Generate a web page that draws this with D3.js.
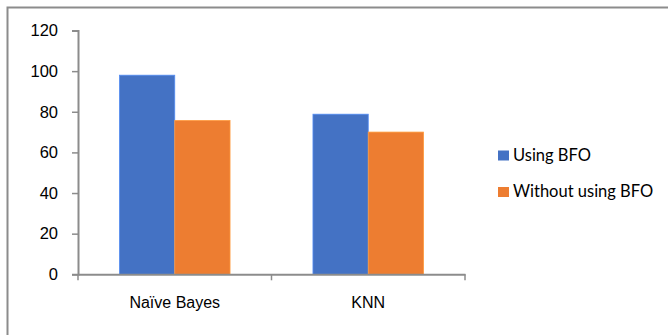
<!DOCTYPE html>
<html>
<head>
<meta charset="utf-8">
<script src="https://cdn.jsdelivr.net/npm/d3@7"></script>
<style>
  html, body { margin: 0; padding: 0; background: #fff; }
  svg { display: block; font-family: Lato, "Open Sans", sans-serif; }
</style>
</head>
<body>
<svg id="chart" width="668" height="335"></svg>
<script>
const categories = ["Naïve Bayes", "KNN"];
const seriesNames = ["Using BFO", "Without using BFO"];
const usingBFO = [98, 78.8];
const withoutBFO = [75.7, 70];
const yTicks = [0, 20, 40, 60, 80, 100, 120];
const colors = ["#4472C4", "#ED7D31"];

const svg = d3.select("#chart");

// chart frame
svg.append("rect")
  .attr("x", 7.5).attr("y", 7.5)
  .attr("width", 680).attr("height", 340)
  .attr("fill", "none").attr("stroke", "#8c8c8c").attr("stroke-width", 2);

const plot = { left: 78, right: 465, top: 30.5, bottom: 274.3 };

const x = d3.scaleBand().domain(categories).range([plot.left, plot.right]).paddingInner(0).paddingOuter(0);
const y = d3.scaleLinear().domain([0, 120]).range([plot.bottom, plot.top]);

const barW = x.bandwidth() / 3.5;
const rows = categories.map((c, i) => ({ cat: c, vals: [usingBFO[i], withoutBFO[i]] }));

// bars
rows.forEach(r => {
  const gx = x(r.cat) + x.bandwidth() / 2 - barW;
  r.vals.forEach((v, j) => {
    svg.append("rect")
      .attr("x", gx + j * barW)
      .attr("y", y(v))
      .attr("width", barW)
      .attr("height", y(0) - y(v))
      .attr("fill", colors[j])
      .attr("stroke", d3.color(colors[j]).brighter(0.6))
      .attr("stroke-width", 0.8);
  });
});

// y axis
const yAxis = svg.append("g")
  .attr("transform", `translate(${plot.left},0)`)
  .call(d3.axisLeft(y).tickValues(yTicks).tickSize(6).tickPadding(14));
yAxis.select(".domain").attr("stroke", "#8c8c8c").attr("stroke-width", 2);
yAxis.selectAll(".tick line").attr("stroke", "#8c8c8c").attr("stroke-width", 1.5);
yAxis.selectAll(".tick text").attr("font-size", 16.5).attr("fill", "#000");

// x axis
const xAxis = svg.append("g")
  .attr("transform", `translate(0,${plot.bottom})`)
  .call(d3.axisBottom(x).tickSize(0).tickPadding(22));
xAxis.select(".domain").attr("stroke", "#8c8c8c").attr("stroke-width", 2);
xAxis.selectAll(".tick text").attr("font-size", 16).attr("fill", "#000");

// category boundary ticks
const bounds = [plot.left, ...categories.map(c => x(c) + x.bandwidth())];
svg.append("g").selectAll("line").data(bounds).join("line")
  .attr("x1", d => d).attr("x2", d => d)
  .attr("y1", plot.bottom).attr("y2", plot.bottom + 6)
  .attr("stroke", "#8c8c8c").attr("stroke-width", 1.5);

// legend
const legend = svg.append("g").attr("transform", "translate(498,150)");
seriesNames.forEach((name, i) => {
  const g = legend.append("g").attr("transform", `translate(0,${i * 36.5})`);
  g.append("rect").attr("width", 11).attr("height", 10).attr("y", 0.5).attr("fill", colors[i]);
  g.append("text").attr("x", 15).attr("y", 10.5)
    .attr("font-size", 16.5).attr("fill", "#000").text(name);
});
</script>
</body>
</html>
